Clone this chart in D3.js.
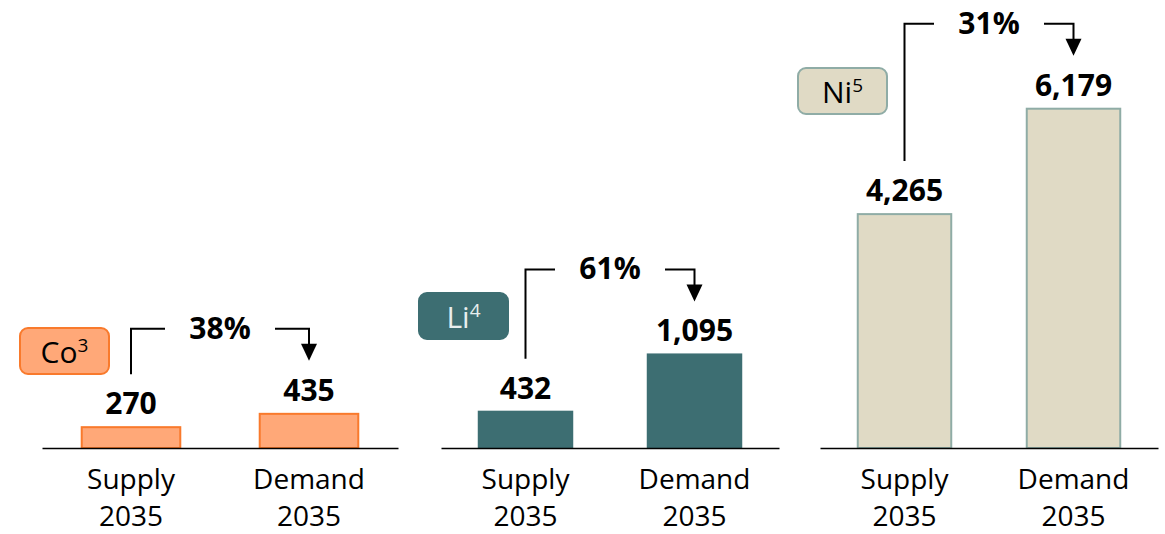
<!DOCTYPE html>
<html>
<head>
<meta charset="utf-8">
<script src="https://cdn.jsdelivr.net/npm/d3@7"></script>
<style>
  body { margin: 0; background: #fff; }
  svg { display: block; font-family: "Open Sans", sans-serif; }
</style>
</head>
<body>
<svg id="chart" width="1165" height="534"></svg>
<script>
// chart data
const metals = ["Co", "Li", "Ni"];
const footnotes = ["3", "4", "5"];
const categories = ["Supply", "Demand"];
const categoryYear = "2035";
const supply = [270, 432, 4265];
const demand = [435, 1095, 6179];
const gap = ["38%", "61%", "31%"];

// each panel has its own value scale
const yMax = [4700, 4400, 6900];

// panel layout
const panelX = [[42, 398], [441, 779], [820, 1158]];
const badgeY = [327, 292, 67];
const baseY = 448, topY = 68;

const fills = ["#ffa878", "#3d6e72", "#e0dac5"];
const strokes = ["#f97a2c", "none", "#8faca6"];
const badgeText = ["#000", "#e8eeee", "#000"];

const svg = d3.select("#chart");

metals.forEach(function(m, i) {
  let g = svg.append("g").attr("class", "panel-" + m);

  let x = d3.scaleBand()
    .domain(categories)
    .range(panelX[i])
    .paddingInner(0.435)
    .paddingOuter(0.2175);

  let y = d3.scaleLinear()
    .domain([0, yMax[i]])
    .range([baseY, topY]);

  let vals = [supply[i], demand[i]];
  let rows = categories.map(function(c, k) { return {cat: c, v: vals[k]}; });

  let sw = strokes[i] === "none" ? 0 : 2;

  // bars
  g.selectAll("rect.bar")
    .data(rows)
    .enter()
    .append("rect")
      .attr("class", "bar")
      .attr("x", function(d) { return x(d.cat) + sw / 2; })
      .attr("y", function(d) { return y(d.v) + sw / 2; })
      .attr("width", x.bandwidth() - sw)
      .attr("height", function(d) { return baseY - y(d.v) - sw / 2; })
      .style("fill", fills[i])
      .style("stroke", strokes[i])
      .style("stroke-width", sw);

  // value labels
  g.selectAll("text.val")
    .data(rows)
    .enter()
    .append("text")
      .attr("class", "val")
      .attr("x", function(d) { return x(d.cat) + x.bandwidth() / 2; })
      .attr("y", function(d) { return y(d.v) - 12; })
      .attr("text-anchor", "middle")
      .style("font-weight", "bold")
      .style("font-size", "30px")
      .text(function(d) { return d3.format(",")(d.v); });

  // axis with two-line labels
  let ax = g.append("g")
    .attr("transform", "translate(0," + baseY + ")")
    .call(d3.axisBottom(x).tickSize(0).tickPadding(0));
  ax.select(".domain").style("stroke", "#000").style("stroke-width", 1.5);
  ax.selectAll(".tick text").each(function(d) {
    let t = d3.select(this);
    t.text(null)
      .attr("y", 0)
      .attr("dy", null)
      .style("font-size", "28px")
      .style("font-family", "'Open Sans', sans-serif")
      .style("fill", "#000");
    t.append("tspan").attr("x", 0).attr("y", 41).text(d);
    t.append("tspan").attr("x", 0).attr("y", 78).text(categoryYear);
  });

  // bracket arrow from supply to demand
  let sx = x("Supply") + x.bandwidth() / 2;
  let dx = x("Demand") + x.bandwidth() / 2;
  let cx = (panelX[i][0] + panelX[i][1]) / 2;
  let by = y(demand[i]) - 84;
  let tip = y(demand[i]) - 52;

  g.append("path")
    .attr("d", "M" + sx + "," + (y(supply[i]) - 52) + "V" + by + "H" + (cx - 55)
      + "M" + (cx + 55) + "," + by + "H" + dx + "V" + (tip - 15))
    .style("fill", "none")
    .style("stroke", "#000")
    .style("stroke-width", 2);

  g.append("path")
    .attr("d", "M" + (dx - 8) + "," + (tip - 17) + "L" + (dx + 8) + "," + (tip - 17) + "L" + dx + "," + tip + "Z")
    .style("fill", "#000");

  g.append("text")
    .attr("x", cx)
    .attr("y", by + 10)
    .attr("text-anchor", "middle")
    .style("font-weight", "bold")
    .style("font-size", "30px")
    .text(gap[i]);

  // metal badge
  let bx = panelX[i][0] - 23;
  g.append("rect")
    .attr("x", bx + 1)
    .attr("y", badgeY[i] + 1)
    .attr("width", 89)
    .attr("height", 46)
    .attr("rx", 8)
    .style("fill", fills[i])
    .style("stroke", strokes[i] === "none" ? fills[i] : strokes[i])
    .style("stroke-width", 2);

  let bt = g.append("text")
    .attr("x", bx + 45.5)
    .attr("y", badgeY[i] + 36)
    .attr("text-anchor", "middle")
    .style("font-size", "30px")
    .style("fill", badgeText[i]);
  bt.append("tspan").text(m);
  bt.append("tspan")
    .attr("dy", -11)
    .style("font-size", "19px")
    .text(footnotes[i]);
});
</script>
</body>
</html>
